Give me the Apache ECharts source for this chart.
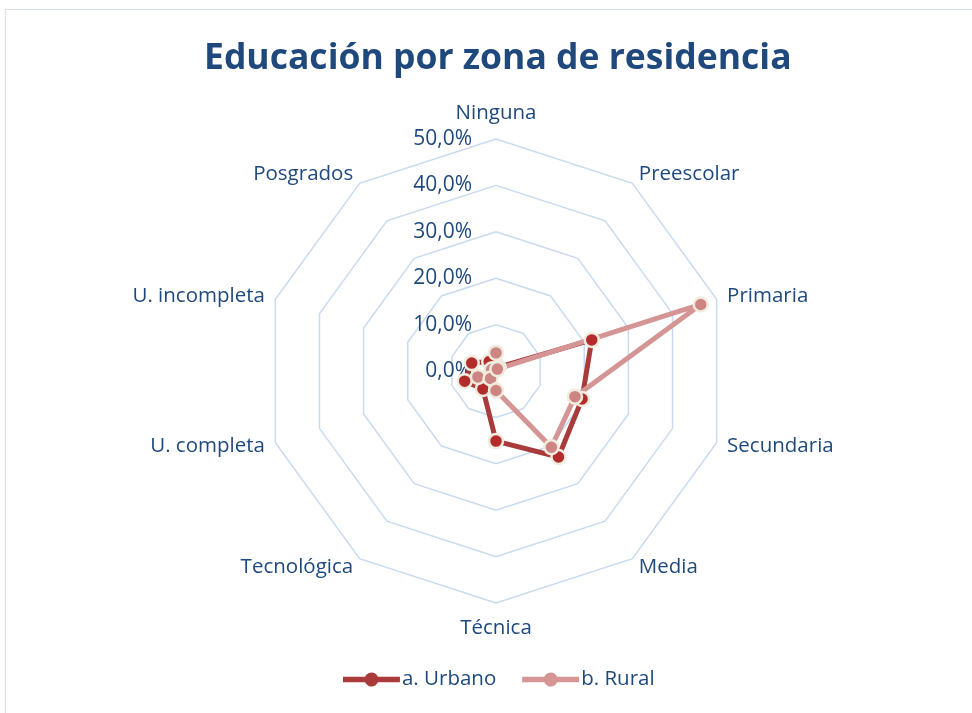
<!DOCTYPE html>
<html>
<head>
<meta charset="utf-8">
<script src="https://cdn.jsdelivr.net/npm/echarts@6/dist/echarts.min.js"></script>
<style>
    html, body { margin: 0; padding: 0; background: #fff; }
    #frame {
        position: absolute;
        left: 5px;
        top: 9px;
        width: 980px;
        height: 720px;
        border-top: 1px solid #d3dff0;
        border-left: 1px solid #d3dff0;
    }
    #myChart {
        position: absolute;
        left: 0;
        top: 0;
        width: 972px;
        height: 713px;
    }
</style>
</head>
<body>
<div id="frame"></div>
<div id="myChart"></div>
<script>
    // niveles educativos, en el orden de Excel (sentido horario desde arriba)
    var categories = ['Ninguna', 'Preescolar', 'Primaria', 'Secundaria', 'Media',
        'Técnica', 'Tecnológica', 'U. completa', 'U. incompleta', 'Posgrados']
    // porcentajes
    var urbano = [1.5, 1.0, 21.7, 19.5, 22.9, 15.1, 4.8, 7.1, 5.5, 2.5]
    var rural = [3.9, 0.5, 46.4, 17.9, 20.3, 4.2, 2.0, 4.1, 1.0, 0.5]
    var seriesNames = ['a. Urbano', 'b. Rural']
    var axisMax = 50

    var blue = '#1f497d'
    var font = 'Open Sans'
    var lineColors = ['#a93c3b', '#d49594']
    var markerColors = ['#b22c2c', '#cd8584']

    // echarts dibuja el radar en sentido antihorario: invertir el orden
    // (dejando la primera categoria arriba) para que quede como en Excel
    let order = [0]
    for (let i = categories.length - 1; i > 0; i--) order.push(i)
    function reorder(arr) {
        return order.map(function (i) { return arr[i] })
    }

    let myChart = echarts.init(document.getElementById('myChart'))

    let indicators = reorder(categories).map(function (c, k) {
        let ind = { name: c, min: 0, max: axisMax }
        // las etiquetas de arriba y abajo van un poco mas lejos
        ind.nameGap = (k === 0 || k === 5) ? 15 : 11
        if (k === 0) {
            ind.axisLabel = { show: true }
        }
        return ind
    })

    // icono de leyenda: linea con circulo al centro
    let legendIcon = 'path://M0,6.2 L22.08,6.2 A7,7 0 0 1 34.92,6.2 L57,6.2 L57,11.8 L34.92,11.8 A7,7 0 0 1 22.08,11.8 L0,11.8 Z'

    function markerStyle(fill) {
        return {
            color: fill,
            borderColor: '#efebdd',
            borderWidth: 2.5
        }
    }

    myChart.setOption({
        title: {
            text: 'Educación por zona de residencia',
            left: 199,
            top: 36,
            textStyle: {
                color: blue,
                fontFamily: font,
                fontWeight: 'bold',
                fontSize: 35.5
            }
        },
        legend: {
            bottom: 18,
            left: 338,
            itemWidth: 57,
            itemHeight: 14,
            itemGap: 26,
            icon: legendIcon,
            itemStyle: { borderWidth: 0 },
            textStyle: {
                color: blue,
                fontFamily: font,
                fontSize: 20.5,
                padding: [0, 0, 0, -3]
            },
            data: seriesNames.map(function (n, i) {
                return { name: n, itemStyle: { color: lineColors[i] } }
            })
        },
        radar: {
            center: [496, 371],
            radius: 232,
            shape: 'polygon',
            startAngle: 90,
            splitNumber: 5,
            indicator: indicators,
            axisName: {
                color: blue,
                fontFamily: font,
                fontSize: 20.5
            },
            axisLine: { show: false },
            axisTick: { show: false },
            splitArea: { show: false },
            splitLine: {
                lineStyle: {
                    color: '#c9daef',
                    width: 1.5
                }
            },
            axisLabel: {
                show: false,
                color: blue,
                fontFamily: font,
                fontSize: 21,
                margin: 24,
                formatter: function (v) {
                    return v.toFixed(1).replace('.', ',') + '%'
                }
            }
        },
        series: [{
            type: 'radar',
            symbol: 'circle',
            symbolSize: 14,
            data: [{
                name: seriesNames[0],
                value: reorder(urbano),
                lineStyle: { color: lineColors[0], width: 5 },
                itemStyle: markerStyle(markerColors[0])
            }, {
                name: seriesNames[1],
                value: reorder(rural),
                lineStyle: { color: lineColors[1], width: 5 },
                itemStyle: markerStyle(markerColors[1])
            }]
        }]
    })
</script>
</body>
</html>
